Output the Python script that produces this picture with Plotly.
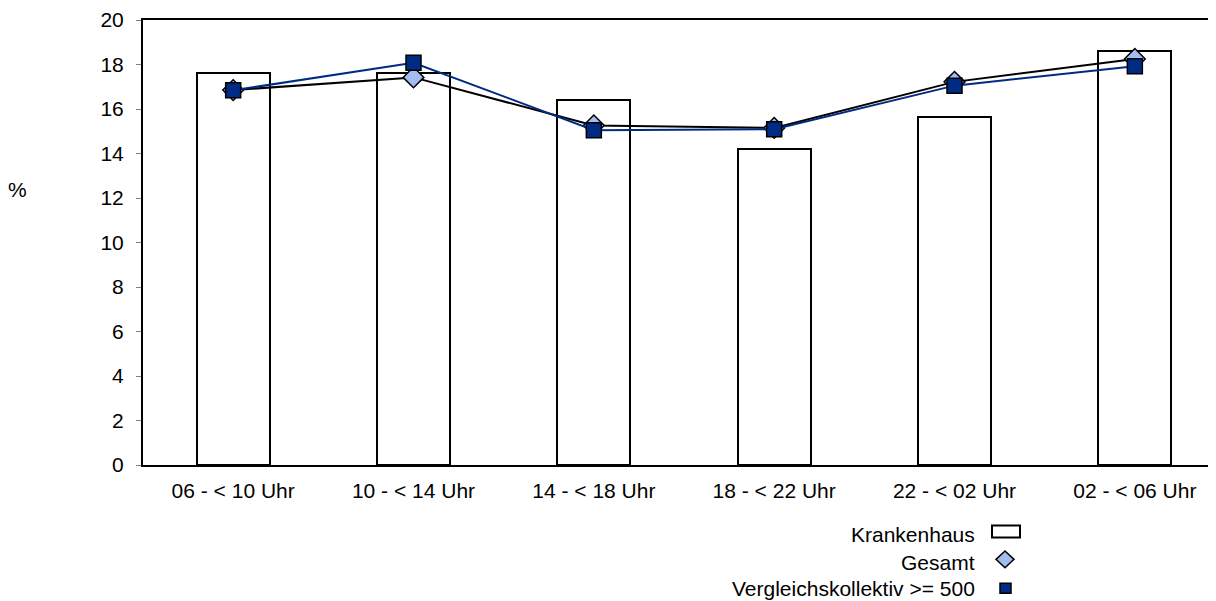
import plotly.graph_objects as go

categories = ["06 - < 10 Uhr", "10 - < 14 Uhr", "14 - < 18 Uhr", "18 - < 22 Uhr", "22 - < 02 Uhr", "02 - < 06 Uhr"]
krankenhaus = [17.6, 17.6, 16.4, 14.2, 15.65, 18.6]
gesamt = [16.85, 17.42, 15.26, 15.15, 17.22, 18.25]
vergleich = [16.84, 18.08, 15.05, 15.09, 17.05, 17.92]
y_ticks = [0, 2, 4, 6, 8, 10, 12, 14, 16, 18, 20]
legend_labels = ["Krankenhaus", "Gesamt", "Vergleichskollektiv >= 500"]

NAVY = "#002b84"
LIGHT = "#a3bdf0"
FONT = "Liberation Sans, Arial, sans-serif"
FS = 21

# page offset of the figure (default body margin)
OFF = 8
W, H = 1216 - OFF, 601 - OFF
# plot area in page pixels
P_L, P_T, P_B, P_R = 143, 17, 465, 1216
L = P_L - OFF
T = P_T - OFF
B = H - (P_B - OFF)
PW = P_R - P_L
PH = P_B - P_T


def px(x):
    return (x - P_L) / PW


def py(y):
    return (P_B - y) / PH


x = list(range(len(categories)))

fig = go.Figure()
fig.add_trace(go.Bar(
    x=x, y=krankenhaus, width=0.405,
    marker=dict(color="white", line=dict(color="black", width=2)),
    name=legend_labels[0], showlegend=False,
))
fig.add_trace(go.Scatter(
    x=x, y=gesamt, mode="lines+markers",
    line=dict(color="black", width=2),
    marker=dict(symbol="diamond", size=16, color=LIGHT, line=dict(color="black", width=1.5)),
    name=legend_labels[1], showlegend=False,
))
fig.add_trace(go.Scatter(
    x=x, y=vergleich, mode="lines+markers",
    line=dict(color=NAVY, width=2),
    marker=dict(symbol="square", size=15, color=NAVY, line=dict(color="black", width=1.5)),
    name=legend_labels[2], showlegend=False,
))

annotations = [
    dict(text="%", x=px(17), y=py(188), xref="paper", yref="paper",
         xanchor="center", yanchor="middle", showarrow=False,
         font=dict(size=FS, color="black", family=FONT)),
]
legend_y = [535, 563, 589]
for lab, yy in zip(legend_labels, legend_y):
    annotations.append(dict(text=lab, x=px(977), y=py(yy), xref="paper", yref="paper",
                            xanchor="right", yanchor="middle", showarrow=False,
                            font=dict(size=FS, color="black", family=FONT)))

shapes = [
    dict(type="rect", xref="paper", yref="paper",
         x0=px(992), x1=px(1020), y0=py(538), y1=py(526),
         line=dict(color="black", width=2), fillcolor="white"),
    dict(type="path", xref="paper", yref="paper",
         path=f"M {px(996)} {py(560)} L {px(1005)} {py(551.5)} L {px(1014)} {py(560)} L {px(1005)} {py(568.5)} Z",
         line=dict(color="black", width=1.5), fillcolor=LIGHT),
    dict(type="rect", xref="paper", yref="paper",
         x0=px(1000), x1=px(1011), y0=py(594), y1=py(584),
         line=dict(color="black", width=1.5), fillcolor=NAVY),
]

fig.update_layout(
    width=W, height=H,
    margin=dict(l=L, r=0, t=T, b=B, pad=0),
    paper_bgcolor="white", plot_bgcolor="white",
    font=dict(family=FONT, size=FS, color="black"),
    showlegend=False,
    annotations=annotations,
    shapes=shapes,
    xaxis=dict(
        range=[-0.5, 5.45], tickmode="array", tickvals=x, ticktext=categories,
        showline=True, linecolor="black", linewidth=2, mirror=True,
        showgrid=False, zeroline=False, ticks="", ticklabelstandoff=6,
        ticklabeloverflow="allow",
        tickfont=dict(size=FS, color="black", family=FONT), fixedrange=True,
    ),
    yaxis=dict(
        range=[0, 20], tickmode="array", tickvals=y_ticks,
        showline=True, linecolor="black", linewidth=2,
        showgrid=False, zeroline=False, ticks="outside", ticklen=5, tickcolor="#808080",
        tickwidth=1, ticklabelstandoff=8, ticklabeloverflow="allow",
        tickfont=dict(size=FS, color="black", family=FONT), fixedrange=True,
    ),
    bargap=0,
)

fig.write_html("out.html")
